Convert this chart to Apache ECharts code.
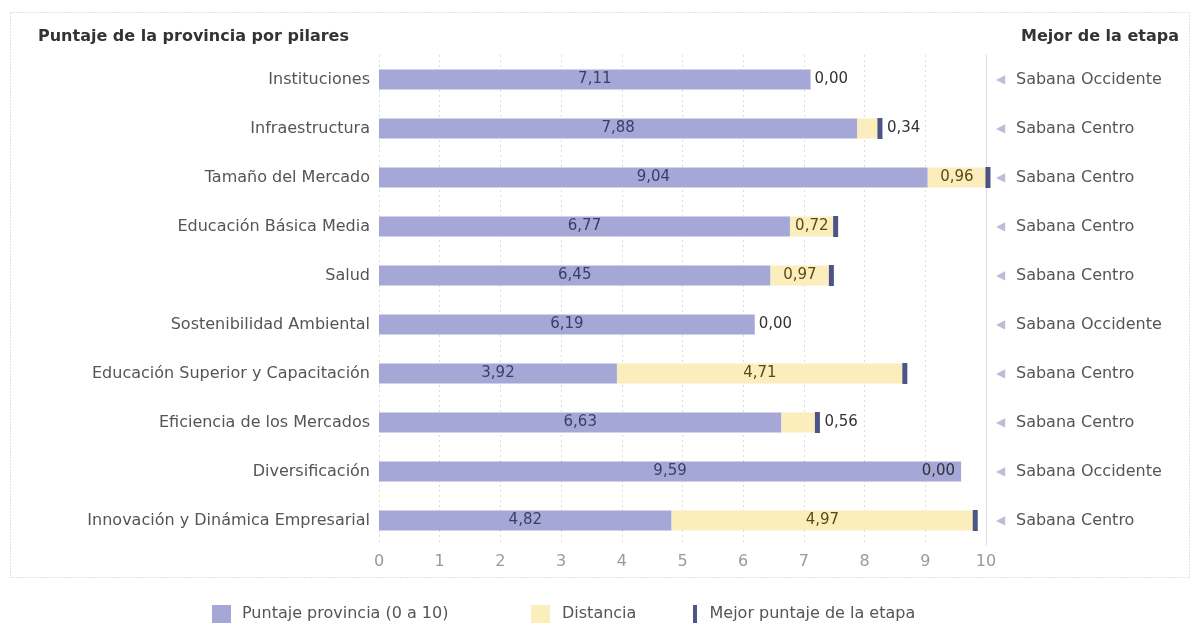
<!DOCTYPE html>
<html>
<head>
<meta charset="utf-8">
<script src="https://cdn.jsdelivr.net/npm/echarts@6/dist/echarts.min.js"></script>
<style>
  html, body { margin: 0; padding: 0; background: #fff; }
  #chart { width: 1195px; height: 637px; }
</style>
</head>
<body>
<div id="chart"></div>
<script>
// datos
const pilares = [
  "Instituciones",
  "Infraestructura",
  "Tamaño del Mercado",
  "Educación Básica Media",
  "Salud",
  "Sostenibilidad Ambiental",
  "Educación Superior y Capacitación",
  "Eficiencia de los Mercados",
  "Diversificación",
  "Innovación y Dinámica Empresarial",
];
const puntaje = [7.11, 7.88, 9.04, 6.77, 6.45, 6.19, 3.92, 6.63, 9.59, 4.82];
const distancia = [0.0, 0.34, 0.96, 0.72, 0.97, 0.0, 4.71, 0.56, 0.0, 4.97];
// marcador del mejor puntaje (no se ve cuando la distancia es 0)
const mejorPuntaje = [null, 8.22, 10.0, 7.49, 7.42, null, 8.63, 7.19, null, 9.79];
const mejorProvincia = [
  "Sabana Occidente",
  "Sabana Centro",
  "Sabana Centro",
  "Sabana Centro",
  "Sabana Centro",
  "Sabana Occidente",
  "Sabana Centro",
  "Sabana Centro",
  "Sabana Occidente",
  "Sabana Centro",
];
const ticksX = [0, 1, 2, 3, 4, 5, 6, 7, 8, 9, 10];

const FONT = "DejaVu Sans";
const fmt = (v) => v.toFixed(2).replace(".", ",");

// etiquetas de la distancia: dentro si cabe, si no a la derecha
const distData = distancia.map((v, i) => {
  if (v === 0) {
    // sin espacio a la derecha: se pone al final de la barra morada
    if (puntaje[i] > 9.2) {
      return { value: v, label: { position: "left", distance: 6, color: "#333" } };
    }
    return { value: v, label: { position: "right", distance: 4, color: "#333" } };
  }
  if (v < 0.65) {
    return { value: v, label: { position: "right", distance: 5, offset: [4, 0], color: "#333" } };
  }
  return { value: v, label: { position: "inside", color: "#5a4a14" } };
});

const legendText = { fontFamily: FONT, fontSize: 16, color: "#555" };
const legendBase = { top: 605, padding: 0, itemWidth: 19, itemHeight: 18 };

const chart = echarts.init(document.getElementById("chart"));
chart.setOption({
  animation: false,
  textStyle: { fontFamily: FONT },
  title: [
    {
      text: "Puntaje de la provincia por pilares",
      left: 33,
      top: 24,
      textStyle: { fontFamily: FONT, fontSize: 16, fontWeight: "bold", color: "#333" },
    },
    {
      text: "Mejor de la etapa",
      right: 11,
      top: 24,
      textStyle: { fontFamily: FONT, fontSize: 16, fontWeight: "bold", color: "#333" },
    },
  ],
  graphic: [
    {
      type: "rect",
      shape: { x: 10.5, y: 12.5, width: 1179, height: 565 },
      style: { fill: "none", stroke: "#c4c4c4", lineWidth: 1, lineDash: [1, 2] },
      silent: true,
    },
  ],
  legend: [
    Object.assign({}, legendBase, {
      left: 212,
      data: [{ name: "Puntaje provincia (0 a 10)", icon: "rect" }],
      textStyle: Object.assign({ padding: [0, 0, 0, 6] }, legendText),
    }),
    Object.assign({}, legendBase, {
      left: 531,
      data: [{ name: "Distancia", icon: "rect" }],
      textStyle: Object.assign({ padding: [0, 0, 0, 7] }, legendText),
    }),
    Object.assign({}, legendBase, {
      left: 693,
      data: [{ name: "Mejor puntaje de la etapa", icon: "path://M0 0h4v18h-4z" }],
      textStyle: Object.assign({ padding: [0, 0, 0, 0] }, legendText),
    }),
  ],
  grid: { left: 379, right: 209, top: 55, bottom: 92 },
  xAxis: {
    type: "value",
    min: ticksX[0],
    max: ticksX[ticksX.length - 1],
    interval: 1,
    axisLine: { show: false },
    axisTick: { show: false },
    splitLine: { lineStyle: { color: "#dcdcdc", type: [2, 3] } },
    axisLabel: { color: "#9a9a9a", fontSize: 16, margin: 9 },
  },
  yAxis: [
    {
      type: "category",
      inverse: true,
      data: pilares,
      axisLine: { show: false },
      axisTick: { show: false },
      axisLabel: { color: "#555", fontSize: 16, margin: 9 },
    },
    {
      type: "category",
      inverse: true,
      position: "right",
      data: mejorProvincia,
      axisLine: { show: true, lineStyle: { color: "#dedede" } },
      axisTick: { show: false },
      axisLabel: {
        margin: 10,
        formatter: (v) => "{a|◀}{b|" + v + "}",
        rich: {
          a: { color: "#bcbdd8", fontSize: 12, width: 20 },
          b: { color: "#555", fontSize: 16, fontFamily: FONT },
        },
      },
    },
  ],
  series: [
    {
      name: "Puntaje provincia (0 a 10)",
      type: "bar",
      stack: "total",
      barWidth: 20,
      data: puntaje,
      itemStyle: { color: "#a5a7d6" },
      label: {
        show: true,
        position: "inside",
        color: "#3a3e66",
        fontSize: 15,
        formatter: (p) => fmt(p.value),
      },
    },
    {
      name: "Distancia",
      type: "bar",
      stack: "total",
      barWidth: 20,
      data: distData,
      itemStyle: { color: "#fcedbd" },
      label: {
        show: true,
        fontSize: 15,
        formatter: (p) => fmt(p.value),
      },
    },
    {
      name: "Mejor puntaje de la etapa",
      type: "scatter",
      symbol: "rect",
      symbolSize: [5, 21],
      symbolOffset: [2, 0],
      z: 5,
      itemStyle: { color: "#1f2a6b" },
      data: mejorPuntaje.map((v, i) => (v === null ? null : [v, pilares[i]])).filter((d) => d),
    },
  ],
});
</script>
</body>
</html>
